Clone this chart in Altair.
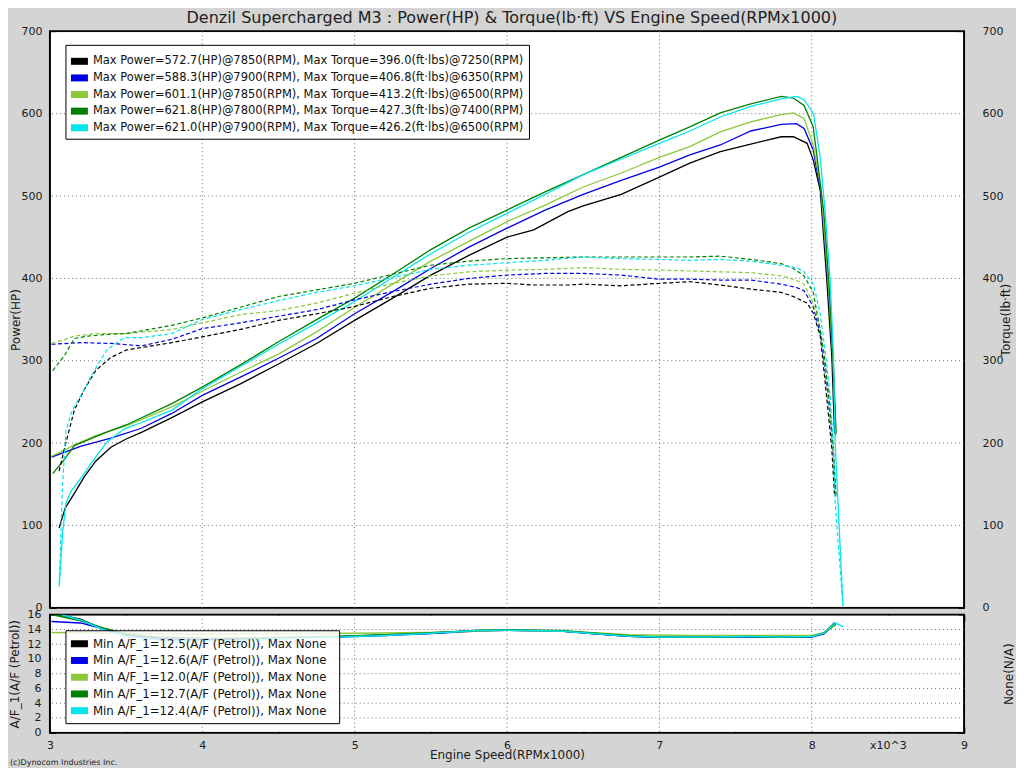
import altair as alt
import pandas as pd

FONT = "DejaVu Sans"
TITLE = "Denzil Supercharged M3 : Power(HP) & Torque(lb·ft) VS Engine Speed(RPMx1000)"
COPYRIGHT = "(c)Dynocom Industries Inc."

pw_labels = [
    "Max Power=572.7(HP)@7850(RPM), Max Torque=396.0(ft·lbs)@7250(RPM)",
    "Max Power=588.3(HP)@7900(RPM), Max Torque=406.8(ft·lbs)@6350(RPM)",
    "Max Power=601.1(HP)@7850(RPM), Max Torque=413.2(ft·lbs)@6500(RPM)",
    "Max Power=621.8(HP)@7800(RPM), Max Torque=427.3(ft·lbs)@7400(RPM)",
    "Max Power=621.0(HP)@7900(RPM), Max Torque=426.2(ft·lbs)@6500(RPM)",
]
af_labels = [
    "Min A/F_1=12.5(A/F (Petrol)), Max None",
    "Min A/F_1=12.6(A/F (Petrol)), Max None",
    "Min A/F_1=12.0(A/F (Petrol)), Max None",
    "Min A/F_1=12.7(A/F (Petrol)), Max None",
    "Min A/F_1=12.4(A/F (Petrol)), Max None",
]
colors = ["#000000", "#0000e6", "#8cc83c", "#008000", "#00e5ee"]

# ---- run 1 (black)
rpm_b = [3060, 3100, 3160, 3225, 3300, 3400, 3500, 3600, 3800, 4000, 4250, 4500, 4750, 5000, 5250, 5500, 5750,
         6000, 6175, 6400, 6500, 6750, 7000, 7200, 7400, 7600, 7800, 7880, 7970, 8010, 8056, 8099, 8132, 8150]
pow_b = [97, 121, 139, 159, 178, 195, 205, 213, 231, 250, 272, 296, 321, 349, 376, 404, 428,
         450, 459, 481, 488, 502, 523, 540, 554, 563, 572, 572, 564, 544, 507, 398, 305, 212]
trq_b = [166, 197, 240, 265, 288, 304, 313, 316, 322, 329, 338, 349, 357, 366, 378, 388, 393,
         394, 392, 392, 393, 391, 394, 396, 392, 387, 383, 378, 370, 358, 330, 255, 193, 136]
# ---- run 2 (blue)
rpm_u = [3010, 3200, 3400, 3600, 3800, 4000, 4250, 4500, 4750, 5000, 5250, 5500, 5750, 6000, 6250, 6500, 6750,
         7000, 7200, 7400, 7600, 7800, 7900, 7950, 8010, 8060, 8105, 8138, 8157]
pow_u = [183, 196, 206, 218, 236, 258, 280, 303, 327, 357, 384, 412, 438, 461, 483, 502, 519,
         535, 550, 562, 579, 587, 588, 582, 556, 505, 400, 305, 210]
trq_u = [320, 322, 321, 318, 326, 339, 346, 354, 362, 374, 384, 393, 400, 404, 406, 406, 404,
         399, 399, 398, 398, 393, 389, 385, 366, 330, 262, 198, 135]
# ---- run 3 (light green)
rpm_l = [3010, 3100, 3160, 3300, 3500, 3800, 4000, 4250, 4500, 4750, 5000, 5250, 5500, 5750, 6000, 6250, 6500,
         6750, 7000, 7200, 7400, 7600, 7800, 7880, 7950, 8010, 8060, 8105, 8138, 8158]
pow_l = [184, 192, 198, 209, 221, 244, 263, 286, 308, 335, 365, 393, 421, 445, 469, 489, 511,
         528, 547, 560, 578, 590, 599, 601, 594, 562, 510, 405, 308, 212]
trq_l = [321, 326, 330, 333, 333, 338, 346, 356, 361, 370, 382, 394, 403, 408, 410, 411, 413,
         411, 410, 409, 408, 407, 403, 399, 393, 370, 335, 268, 200, 137]
# ---- run 4 (dark green)
rpm_g = [3018, 3094, 3160, 3250, 3380, 3500, 3800, 4000, 4250, 4500, 4750, 5000, 5250, 5500, 5750, 6000, 6250,
         6500, 6750, 7000, 7200, 7400, 7600, 7800, 7880, 7950, 8010, 8040, 8080, 8112, 8140, 8160]
pow_g = [163, 180, 197, 204, 214, 222, 248, 268, 295, 323, 350, 376, 405, 435, 461, 483, 505,
         526, 547, 568, 584, 601, 612, 621, 619, 610, 584, 540, 479, 398, 305, 212]
trq_g = [288, 306, 327, 330, 332, 333, 343, 352, 365, 378, 386, 394, 405, 416, 421, 424, 425,
         426, 426, 426, 426, 427, 423, 418, 412, 403, 383, 353, 311, 258, 197, 136]
# ---- run 5 (cyan)
rpm_c = [3061, 3083, 3105, 3140, 3181, 3225, 3269, 3320, 3378, 3487, 3600, 3800, 4000, 4250, 4500, 4750, 5000,
         5250, 5500, 5750, 6000, 6250, 6500, 6750, 7000, 7200, 7400, 7600, 7800, 7900, 7950, 8012, 8056, 8089,
         8121, 8143, 8154, 8205]
pow_c = [26, 91, 127, 142, 152, 163, 175, 188, 202, 217, 225, 240, 266, 293, 320, 346, 372,
         401, 430, 456, 479, 502, 526, 545, 564, 579, 596, 609, 618, 621, 617, 600, 547, 479,
         398, 305, 200, 3]
trq_c = [30, 150, 215, 237, 251, 265, 281, 297, 314, 328, 328, 333, 350, 362, 373, 383, 391,
         401, 411, 416, 419, 422, 426, 424, 423, 422, 423, 421, 416, 413, 408, 393, 357, 311,
         257, 197, 129, 2]

# ---- A/F traces
af_rpm_b = [3060, 3200, 3320, 3450, 3600, 3800, 4000, 4300, 4600, 4900, 5200, 5500, 5800, 6000, 6350, 6600,
            6800, 7000, 7300, 7600, 7800, 8000, 8080, 8150]
af_b = [16.0, 15.4, 14.3, 13.4, 12.9, 12.55, 12.6, 12.7, 12.85, 13.05, 13.25, 13.5, 13.85, 13.9, 13.8, 13.4,
        13.1, 13.0, 13.0, 13.05, 13.0, 13.05, 13.5, 14.9]
af_rpm_u = [3010, 3200, 3350, 3500, 3700, 4000, 4300, 4600, 4900, 5200, 5500, 5800, 6000, 6350, 6600, 6800,
            7000, 7300, 7600, 7800, 8000, 8080, 8157]
af_u = [15.1, 14.9, 14.1, 13.3, 12.8, 12.6, 12.7, 12.9, 13.0, 13.2, 13.45, 13.8, 13.9, 13.8, 13.4, 13.1,
        12.95, 13.0, 13.0, 12.95, 13.0, 13.4, 14.8]
af_rpm_l = [3010, 3500, 4000, 4500, 5000, 5500, 6000, 6400, 6800, 7200, 7600, 8000, 8080, 8158]
af_l = [13.6, 13.5, 13.4, 13.45, 13.5, 13.6, 13.9, 13.75, 13.3, 13.2, 13.2, 13.2, 13.6, 14.6]
af_rpm_g = [3018, 3200, 3350, 3500, 3700, 4000, 4300, 4600, 4900, 5200, 5500, 5800, 6000, 6350, 6600, 6800,
            7000, 7300, 7600, 7800, 8000, 8080, 8160]
af_g = [16.0, 15.2, 14.2, 13.4, 13.0, 12.8, 12.85, 12.95, 13.1, 13.3, 13.55, 13.85, 13.95, 13.85, 13.45, 13.15,
        13.0, 13.0, 13.05, 13.0, 13.05, 13.5, 14.9]
af_rpm_c = [3061, 3200, 3350, 3500, 3700, 3900, 4200, 4500, 4900, 5200, 5500, 5800, 6000, 6350, 6600, 6800,
            7000, 7300, 7600, 7800, 8000, 8080, 8154, 8205]
af_c = [16.1, 15.3, 14.0, 13.1, 12.6, 12.45, 12.5, 12.7, 13.0, 13.2, 13.5, 13.85, 13.9, 13.8, 13.4, 13.1,
        13.0, 13.0, 13.05, 13.0, 13.05, 13.5, 14.9, 14.4]

# ---- axis ticks / grid
x_ticks = [3, 3.5, 4, 4.5, 5, 5.5, 6, 6.5, 7, 7.5, 8, 8.5, 9]
x_grid = [4, 5, 6, 7, 8]
y_top_ticks = [0, 50, 100, 150, 200, 250, 300, 350, 400, 450, 500, 550, 600, 650, 700]
y_top_grid = [100, 200, 300, 400, 500, 600]
y_af_ticks = [0, 1, 2, 3, 4, 5, 6, 7, 8, 9, 10, 11, 12, 13, 14, 15, 16]
y_af_grid = [2, 4, 6, 8, 10, 12, 14]

rows = []
for lab, rr, pp, tt in zip(pw_labels, [rpm_b, rpm_u, rpm_l, rpm_g, rpm_c],
                           [pow_b, pow_u, pow_l, pow_g, pow_c], [trq_b, trq_u, trq_l, trq_g, trq_c]):
    for r, p, t in zip(rr, pp, tt):
        rows.append({"series": lab, "k": r / 1000.0, "power": p, "torque": t})
df_pt = pd.DataFrame(rows)

rows = []
for lab, rr, aa in zip(af_labels, [af_rpm_b, af_rpm_u, af_rpm_l, af_rpm_g, af_rpm_c], [af_b, af_u, af_l, af_g, af_c]):
    for r, a in zip(rr, aa):
        rows.append({"series": lab, "k": r / 1000.0, "af": a})
df_af = pd.DataFrame(rows)

RECT = "M-1,-0.41L1,-0.41L1,0.41L-1,0.41Z"
GRID_COLOR = "#666666"
W, H1, H2 = 915, 577, 118
VIEW = alt.ViewBackground(fill="white", stroke="#000000", strokeWidth=2)

xs = alt.Scale(domain=[3, 9], nice=False, zero=False)
ys_top = alt.Scale(domain=[0, 700], nice=False)
ys_af = alt.Scale(domain=[0, 16], nice=False)
color_top = alt.Scale(domain=pw_labels, range=colors)
color_af = alt.Scale(domain=af_labels, range=colors)
one = pd.DataFrame({"a": [0]})


def plot_bg(h):
    return alt.Chart(one).mark_rect(color="white").encode(
        x=alt.value(1), x2=alt.value(W - 1), y=alt.value(1), y2=alt.value(h - 1))


def legend_layers(labels, cscale, box, rows_range, fsize):
    x0, x1, y0, y1 = box
    frame = alt.Chart(one).mark_rect(fill="white", fillOpacity=0.82, stroke="#000000", strokeWidth=1).encode(
        x=alt.value(x0), x2=alt.value(x1), y=alt.value(y0), y2=alt.value(y1))
    ldf = pd.DataFrame({"series": labels})
    ypos = alt.Y("series:N", scale=alt.Scale(type="point", domain=labels, range=rows_range, padding=0), axis=None)
    sw = alt.Chart(ldf).mark_point(shape=RECT, filled=True, opacity=1, size=289).encode(
        x=alt.value(x0 + 13.5), y=ypos, color=alt.Color("series:N", scale=cscale, legend=None))
    tx = alt.Chart(ldf).mark_text(align="left", baseline="middle", font=FONT, fontSize=fsize,
                                  color="#111111").encode(x=alt.value(x0 + 27), y=ypos, text="series:N")
    return [frame, sw, tx]


# ---------- top panel
gx = alt.Chart(pd.DataFrame({"g": x_grid})).mark_rule(color=GRID_COLOR, strokeDash=[1, 3], strokeWidth=1).encode(
    x=alt.X("g:Q", scale=xs, axis=None))
gy = alt.Chart(pd.DataFrame({"g": y_top_grid})).mark_rule(color=GRID_COLOR, strokeDash=[1, 3], strokeWidth=1).encode(
    y=alt.Y("g:Q", scale=ys_top, axis=None))

power = alt.Chart(df_pt).mark_line(strokeWidth=1.3, clip=True).encode(
    x=alt.X("k:Q", scale=xs, axis=alt.Axis(orient="bottom", values=x_ticks, offset=-7, tickSize=7, domain=False,
                                          labels=False, title=None, grid=False, tickWidth=1.5)),
    y=alt.Y("power:Q", scale=ys_top,
            axis=alt.Axis(orient="left", values=y_top_ticks,
                          labelExpr="datum.value % 100 == 0 ? toString(datum.value) : ''",
                          offset=-6, tickSize=6, domain=False, grid=False, labelPadding=8,
                          title="Power(HP)", titlePadding=-2, tickWidth=1.5)),
    color=alt.Color("series:N", scale=color_top, legend=None),
)
torque = alt.Chart(df_pt).mark_line(strokeWidth=1.2, strokeDash=[4, 2.5], clip=True).encode(
    x=alt.X("k:Q", scale=xs, axis=None),
    y=alt.Y("torque:Q", scale=ys_top,
            axis=alt.Axis(orient="right", values=y_top_ticks,
                          labelExpr="datum.value % 100 == 0 ? toString(datum.value) : ''",
                          offset=-6, tickSize=6, domain=False, grid=False, labelPadding=18,
                          title="Torque(lb·ft)", titlePadding=-3, titleAngle=270, titleBaseline="top",
                          tickWidth=1.5)),
    color=alt.Color("series:N", scale=color_top, legend=None),
)

top = alt.layer(
    plot_bg(H1), gx, gy, power, torque,
    *legend_layers(pw_labels, color_top, (16, 480, 14, 108), [30, 96.5], 11.5),
).resolve_scale(y="independent").properties(width=W, height=H1, view=VIEW)

# ---------- bottom panel
gxb = alt.Chart(pd.DataFrame({"g": x_grid})).mark_rule(color=GRID_COLOR, strokeDash=[1, 3], strokeWidth=1).encode(
    x=alt.X("g:Q", scale=xs, axis=None))
gyb = alt.Chart(pd.DataFrame({"g": y_af_grid})).mark_rule(color=GRID_COLOR, strokeDash=[1, 3], strokeWidth=1).encode(
    y=alt.Y("g:Q", scale=ys_af, axis=None))

afl = alt.Chart(df_af).mark_line(strokeWidth=1.5, clip=True).encode(
    x=alt.X("k:Q", scale=xs,
            axis=alt.Axis(orient="bottom", values=x_ticks,
                          labelExpr="datum.value == 8.5 ? 'x10^3' : (datum.value % 1 == 0 ? toString(datum.value) : '')",
                          offset=-6, tickSize=6, domain=False, grid=False, labelPadding=7, labelFlush=False,
                          labelOverlap=False, title="Engine Speed(RPMx1000)", titlePadding=-1, tickWidth=1.5)),
    y=alt.Y("af:Q", scale=ys_af,
            axis=alt.Axis(orient="left", values=y_af_ticks,
                          labelExpr="datum.value % 2 == 0 ? toString(datum.value) : ''",
                          offset=-6, tickSize=6, domain=False, grid=False, labelPadding=9,
                          title="A/F_1(A/F (Petrol))", titlePadding=5, tickWidth=1.5)),
    color=alt.Color("series:N", scale=color_af, legend=None),
)
dummy = alt.Chart(df_af).mark_line(opacity=0).encode(
    x=alt.X("k:Q", scale=xs, axis=alt.Axis(orient="top", values=x_ticks, labels=False, offset=-6, tickSize=6,
                                          domain=False, grid=False, title=None, tickWidth=1.5)),
    y=alt.Y("af:Q", scale=ys_af, axis=alt.Axis(orient="right", values=y_af_ticks, labels=False, offset=-6,
                                              tickSize=6, domain=False, grid=False, title="None(N/A)",
                                              titlePadding=39, titleAngle=270, titleBaseline="top",
                                              tickWidth=1.5)),
)
copy = alt.Chart(pd.DataFrame({"t": [COPYRIGHT]})).mark_text(
    align="left", baseline="middle", font=FONT, fontSize=8, color="#222222").encode(
    text="t:N", x=alt.value(-40), y=alt.value(148))

bottom = alt.layer(
    plot_bg(H2), gxb, gyb, afl, dummy,
    *legend_layers(af_labels, color_af, (16, 290, 16, 109), [29, 96], 11.8),
    copy,
).resolve_scale(x="independent", y="independent").properties(width=W, height=H2, view=VIEW)

chart = alt.vconcat(top, bottom, spacing=7, bounds="flush").resolve_scale(color="independent").properties(
    title=alt.TitleParams(TITLE, font=FONT, fontSize=16, fontWeight="normal", color="#222222", anchor="middle",
                          offset=-2),
    background="#d4d4d4",
    padding={"left": 0, "top": 2, "right": 0, "bottom": 0},
).configure_view(stroke="#000000", strokeWidth=2, fill="white").configure_axis(
    labelFont=FONT, titleFont=FONT, labelFontSize=11, titleFontSize=12, titleFontWeight="normal",
    labelColor="#1a1a1a", titleColor="#1a1a1a", tickColor="#000000")

chart.save("out.html", embed_options={"renderer": "svg", "actions": False})
